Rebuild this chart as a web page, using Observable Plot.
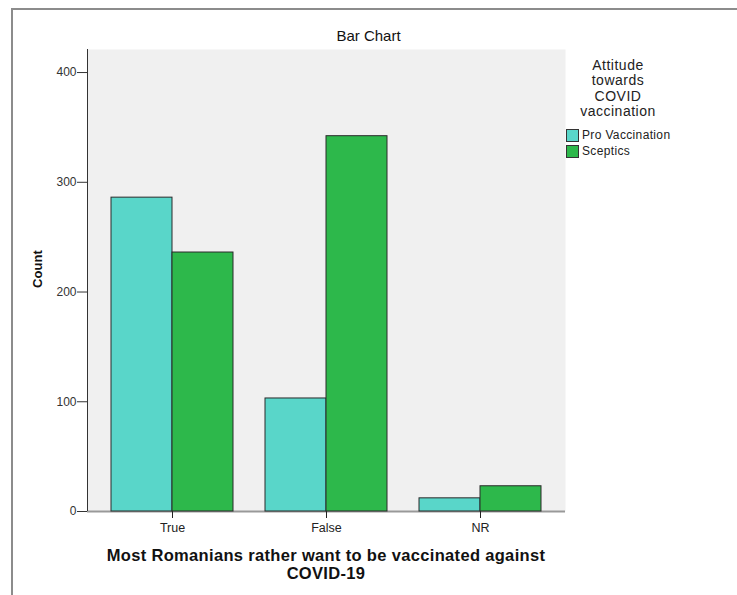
<!DOCTYPE html>
<html>
<head>
<meta charset="utf-8">
<script src="https://cdn.jsdelivr.net/npm/d3@7"></script>
<script src="https://cdn.jsdelivr.net/npm/@observablehq/plot@0.6"></script>
<style>
  body { margin: 0; background: #fff; font-family: "Liberation Sans", Arial, sans-serif; }
  #wrap { position: relative; width: 737px; height: 595px; overflow: hidden; }
  #border { position: absolute; left: 11px; top: 8px; right: -10px; bottom: -10px; border-top: 2px solid #8c8c8c; border-left: 2px solid #8c8c8c; }
  .layer { position: absolute; left: 0; top: 0; }
  .title { position: absolute; left: 0; width: 737px; top: 27px; text-align: center; font-size: 15px; color: #111; }
  .ylab { position: absolute; left: 37px; top: 269px; transform: translate(-50%, -50%) rotate(-90deg); font-weight: bold; font-size: 13px; letter-spacing: 0.1px; color: #111; white-space: nowrap; }
  .xlab { position: absolute; left: 40px; width: 572px; top: 547px; text-align: center; font-weight: bold; font-size: 16.5px; letter-spacing: 0.33px; line-height: 17.7px; color: #111; }
  .legtitle { position: absolute; left: 558px; width: 120px; top: 58px; text-align: center; font-size: 14px; letter-spacing: 0.5px; line-height: 15.3px; color: #222; }
  .legitems { position: absolute; left: 566px; top: 127px; font-size: 12px; letter-spacing: 0.35px; color: #222; }
  .legitem { display: flex; align-items: center; height: 16px; }
  .sw { width: 11px; height: 11px; border: 1px solid #333; margin-right: 3px; }
</style>
</head>
<body>
<div id="wrap">
  <div id="border"></div>
  <div id="back" class="layer"></div>
  <div id="chart" class="layer"></div>
  <div class="title">Bar Chart</div>
  <div class="ylab">Count</div>
  <div class="xlab">Most Romanians rather want to be vaccinated against<br>COVID-19</div>
  <div class="legtitle">Attitude<br>towards<br>COVID<br>vaccination</div>
  <div class="legitems" id="legend"></div>
</div>
<script>
const categories = ["True", "False", "NR"];
const groups = ["Pro Vaccination", "Sceptics"];
const proVaccination = [286, 103, 12];
const sceptics = [236, 342, 23];
const yTicks = [0, 100, 200, 300, 400];
const colors = ["#59d6c9", "#2db84b"];

const data = [];
categories.forEach((c, i) => {
  data.push({category: c, group: groups[0], count: proVaccination[i]});
  data.push({category: c, group: groups[1], count: sceptics[i]});
});

const common = {
  width: 737,
  height: 595,
  marginLeft: 87,
  marginRight: 172,
  marginTop: 49,
  marginBottom: 84,
  style: {background: "transparent", fontFamily: "Liberation Sans, Arial, sans-serif", fontSize: "12px", color: "#222"}
};
const yScale = {domain: [0, 421], ticks: yTicks, tickSize: 10, tickPadding: 1, label: null};

// Background layer: plot area, baseline, y axis
const back = Plot.plot({
  ...common,
  x: {domain: [0, 1], axis: null},
  y: {...yScale, axis: null},
  marks: [
    Plot.frame({fill: "#f0f0f0", stroke: null}),
    Plot.ruleY([0], {stroke: "#999", strokeWidth: 2}),
    Plot.ruleX([0], {stroke: "#333", strokeWidth: 1}),
    Plot.axisY({ticks: yTicks, tickSize: 10, tickPadding: 1, label: null, stroke: "#333", fill: "#333"})
  ]
});
document.getElementById("back").appendChild(back);

// Bars layer
const chart = Plot.plot({
  ...common,
  style: {...common.style, fontSize: "12.5px"},
  fx: {domain: categories, paddingInner: 0.21, paddingOuter: 0.154, label: null, tickSize: 7, tickPadding: 5},
  x: {domain: groups, padding: 0, axis: null},
  y: {...yScale, axis: null},
  color: {domain: groups, range: colors},
  marks: [
    Plot.barY(data, {fx: "category", x: "group", y: "count", fill: "group", stroke: "#2a2a2a", strokeWidth: 1, inset: 0})
  ]
});
document.getElementById("chart").appendChild(chart);

const leg = document.getElementById("legend");
groups.forEach((g, i) => {
  const row = document.createElement("div");
  row.className = "legitem";
  const sw = document.createElement("div");
  sw.className = "sw";
  sw.style.background = colors[i];
  const t = document.createElement("span");
  t.textContent = g;
  row.appendChild(sw); row.appendChild(t);
  leg.appendChild(row);
});
</script>
</body>
</html>
